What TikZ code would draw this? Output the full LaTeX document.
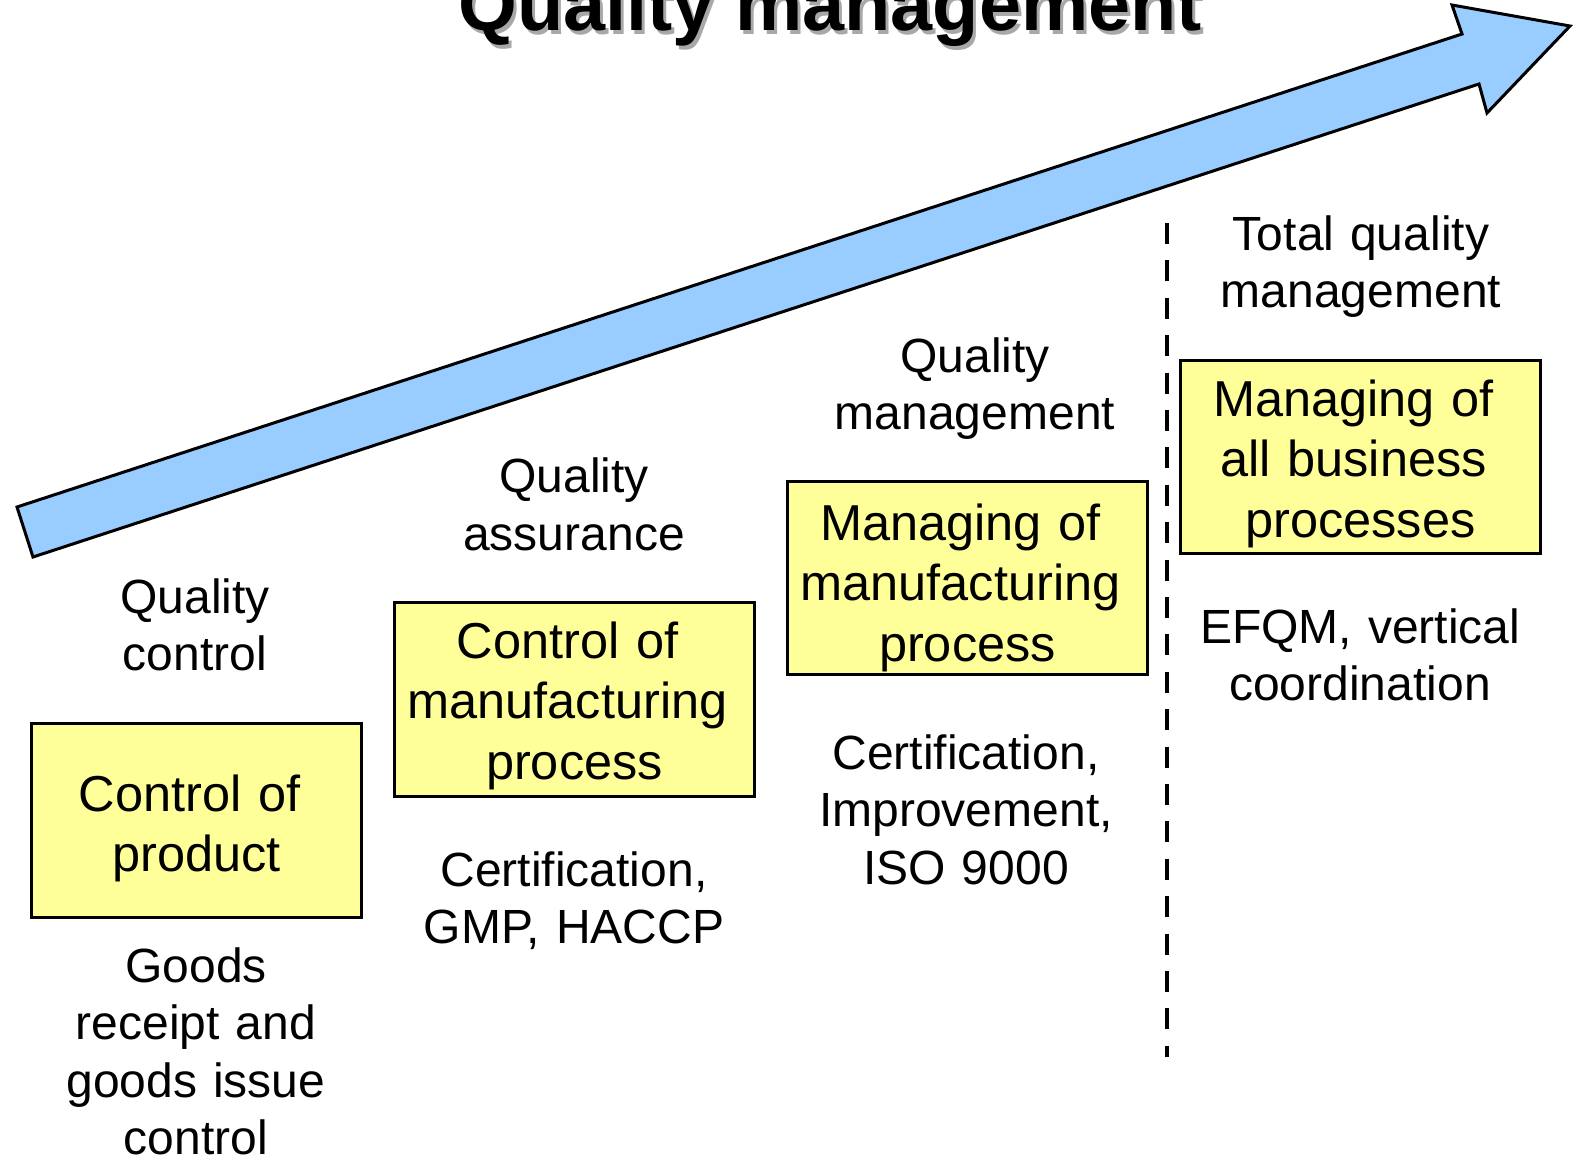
\documentclass[tikz,border=0pt]{standalone}
\usepackage{fontspec}
\setmainfont{Liberation Sans}
\definecolor{boxyellow}{HTML}{FFFF99}
\definecolor{arrowblue}{HTML}{99CCFF}
\definecolor{shadowgray}{HTML}{A8A8A8}
\newcommand{\trsp}{\rule{0.278em}{0pt}}
\tikzset{
  lbl/.style={font=\fontsize{48}{57.5}\selectfont, text width=440pt, align=center, inner sep=0pt, anchor=base},
  btxt/.style={font=\fontsize{50.5}{60.7}\selectfont, text width=440pt, align=center, inner sep=0pt, anchor=base},
  qbox/.style={draw=black, line width=3pt, fill=boxyellow, inner sep=0pt},
  ttl/.style={font=\fontsize{75.6}{90}\selectfont\bfseries, inner sep=0pt, anchor=base},
}
\begin{document}
\begin{tikzpicture}[x=1pt, y=-1pt]
\useasboundingbox (0,0) rectangle (1576,1157);
% title with shadow
\node[ttl, text=shadowgray] (titleshadow) at (833,34) {Quality management};
\node[ttl] (title) at (830,30) {Quality management};
% big arrow
\draw[line width=3pt, fill=arrowblue, line join=miter]
  (17,507) -- (1462,34) -- (1452,5) -- (1570,26) -- (1487,113) -- (1479,84) -- (33,557) -- cycle;
% dashed separator
\coordinate (dtop) at (1167,223);
\coordinate (dbot) at (1167,1057);
\draw[line width=4.5pt, dash pattern=on 21pt off 16.4pt] (dtop) -- (dbot);
% boxes
\node[qbox, minimum width=330pt, minimum height=194pt] (b1) at (196.5,820.5) {};
\node[qbox, minimum width=360pt, minimum height=194pt] (b2) at (574.5,699.5) {};
\node[qbox, minimum width=360pt, minimum height=193pt] (b3) at (967.5,578) {};
\node[qbox, minimum width=360pt, minimum height=193pt] (b4) at (1360.5,457) {};
% stage 1
\node[lbl] (l1) at (195,613) {Quality\\control};
\node[btxt] (t1) at (196.5,811) {Control of\trsp\\product};
\node[lbl] (d1) at (196,982) {Goods\\receipt and\\goods issue\\control};
% stage 2
\node[lbl] (l2) at (574,492.5) {Quality\\assurance};
\node[btxt] (t2) at (574.5,658) {Control of\trsp\\manufacturing\trsp\\process};
\node[lbl] (d2) at (574,886) {Certification,\\GMP, HACCP};
% stage 3
\node[lbl] (l3) at (975,372) {Quality\\management};
\node[btxt] (t3) at (967.5,540) {Managing of\trsp\\manufacturing\trsp\\process};
\node[lbl] (d3) at (966,769) {Certification,\\Improvement,\\ISO 9000};
% stage 4
\node[lbl] (l4) at (1361,250) {Total quality\\management};
\node[btxt] (t4) at (1360.5,416) {Managing of\trsp\\all business\trsp\\processes};
\node[lbl] (d4) at (1360,643) {EFQM, vertical\\coordination};
\end{tikzpicture}
\end{document}
